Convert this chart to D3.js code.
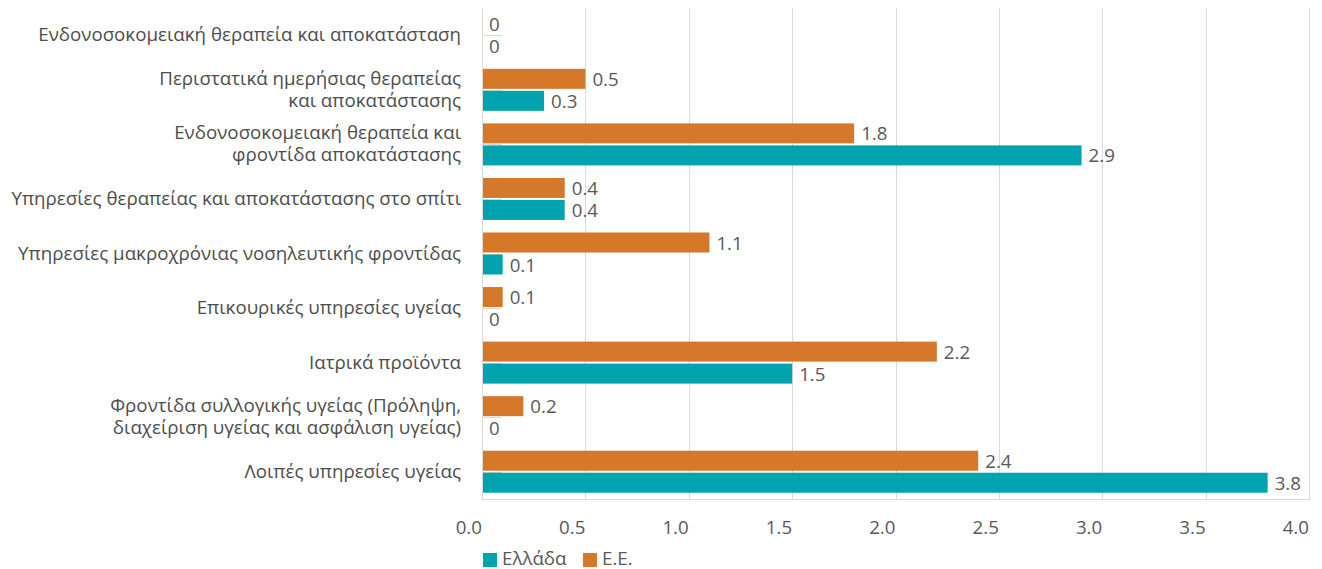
<!DOCTYPE html>
<html><head><meta charset="utf-8">
<script src="https://cdn.jsdelivr.net/npm/d3@7"></script>
<style>
body{margin:0;background:#fff;}
text{font-family:"Open Sans","Noto Sans",sans-serif;}
</style></head>
<body>
<svg id="chart" width="1322" height="569"></svg>
<script>
const categories = [
  ["Ενδονοσοκομειακή θεραπεία και αποκατάσταση"],
  ["Περιστατικά ημερήσιας θεραπείας", "και αποκατάστασης"],
  ["Ενδονοσοκομειακή θεραπεία και", "φροντίδα αποκατάστασης"],
  ["Υπηρεσίες θεραπείας και αποκατάστασης στο σπίτι"],
  ["Υπηρεσίες μακροχρόνιας νοσηλευτικής φροντίδας"],
  ["Επικουρικές υπηρεσίες υγείας"],
  ["Ιατρικά προϊόντα"],
  ["Φροντίδα συλλογικής υγείας (Πρόληψη,", "διαχείριση υγείας και ασφάλιση υγείας)"],
  ["Λοιπές υπηρεσίες υγείας"]
];
const valuesEE = [0, 0.5, 1.8, 0.4, 1.1, 0.1, 2.2, 0.2, 2.4];
const valuesGR = [0, 0.3, 2.9, 0.4, 0.1, 0, 1.5, 0, 3.8];
const xTicks = [0, 0.5, 1, 1.5, 2, 2.5, 3, 3.5, 4];
const seriesNames = ["Ελλάδα", "Ε.Ε."];
const colors = {GR: "#00A3AE", EE: "#D5782A"};

const svg = d3.select("#chart");
const pL = 482, pR = 1309, pT = 8, pB = 499;
const x = d3.scaleLinear().domain([0, 4]).range([pL, pR]);
const y = d3.scaleBand().domain(d3.range(categories.length)).range([pT, pB]);
const barH = 20, gap = 2;

// font size fitted so the first category label spans ~423px like the reference
const probe = svg.append("text").attr("font-size", 17).text(categories[0][0]);
const fs = Math.min(19, 17 * 423 / probe.node().getComputedTextLength());
probe.remove();

// gridlines
svg.append("g").selectAll("line").data(xTicks).join("line")
  .attr("x1", d => Math.round(x(d)) + 0.5).attr("x2", d => Math.round(x(d)) + 0.5)
  .attr("y1", pT).attr("y2", pB)
  .attr("stroke", "#d9d9d9").attr("stroke-width", 1);
// bottom axis line
svg.append("line").attr("x1", pL).attr("x2", pR + 1).attr("y1", pB + 0.5).attr("y2", pB + 0.5)
  .attr("stroke", "#d9d9d9");

// tick labels (right aligned at gridline)
svg.append("g").selectAll("text").data(xTicks).join("text")
  .attr("x", d => x(d)).attr("y", 534)
  .attr("text-anchor", "end")
  .attr("fill", "#595959").attr("font-size", fs)
  .text(d => d3.format(".1f")(d));

// small separators
svg.append("g").selectAll("line").data(d3.range(categories.length)).join("line")
  .attr("x1", pL).attr("x2", pL + 20)
  .attr("y1", i => Math.round(y(i) + y.bandwidth()/2) + 0.5).attr("y2", i => Math.round(y(i) + y.bandwidth()/2) + 0.5)
  .attr("stroke", "#d9d9d9");

// bars
svg.append("g").selectAll("rect").data(valuesEE).join("rect")
  .attr("x", pL).attr("width", d => x(d) - pL)
  .attr("y", (d, i) => y(i) + y.bandwidth()/2 - gap/2 - barH)
  .attr("height", barH).attr("fill", colors.EE);
svg.append("g").selectAll("rect").data(valuesGR).join("rect")
  .attr("x", pL).attr("width", d => x(d) - pL)
  .attr("y", (d, i) => y(i) + y.bandwidth()/2 + gap/2)
  .attr("height", barH).attr("fill", colors.GR);

// left axis line
svg.append("line").attr("x1", pL + 0.5).attr("x2", pL + 0.5).attr("y1", pT).attr("y2", pB)
  .attr("stroke", "#d9d9d9");

// value labels
const fmt = d => d === 0 ? "0" : String(d);
svg.append("g").selectAll("text").data(valuesEE).join("text")
  .attr("x", d => x(d) + 7)
  .attr("y", (d, i) => y(i) + y.bandwidth()/2 - gap/2 - barH/2 + 7)
  .attr("fill", "#595959").attr("font-size", fs).text(fmt);
svg.append("g").selectAll("text").data(valuesGR).join("text")
  .attr("x", d => x(d) + 7)
  .attr("y", (d, i) => y(i) + y.bandwidth()/2 + gap/2 + barH/2 + 7)
  .attr("fill", "#595959").attr("font-size", fs).text(fmt);

// category labels
const catG = svg.append("g");
categories.forEach((lines, i) => {
  const cy = y(i) + y.bandwidth()/2;
  const lh = 22;
  const t = catG.append("text").attr("text-anchor", "end").attr("fill", "#4d4d4d").attr("font-size", fs);
  lines.forEach((ln, j) => {
    t.append("tspan").attr("x", 461)
      .attr("y", cy + (j - (lines.length - 1)/2) * lh + 6).text(ln);
  });
});

// legend
const leg = svg.append("g");
const legItems = [{n: seriesNames[0], c: colors.GR, x: 483}, {n: seriesNames[1], c: colors.EE, x: 583}];
legItems.forEach(it => {
  leg.append("rect").attr("x", it.x).attr("y", 553).attr("width", 14).attr("height", 14).attr("fill", it.c);
  leg.append("text").attr("x", it.x + 19).attr("y", 565).attr("fill", "#595959").attr("font-size", fs).text(it.n);
});
</script>
</body></html>
